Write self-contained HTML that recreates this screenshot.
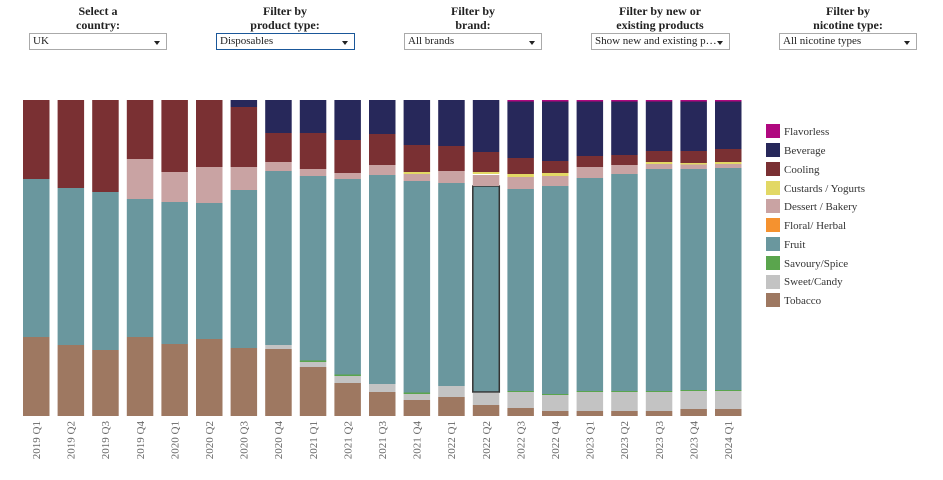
<!DOCTYPE html>
<html><head><meta charset="utf-8"><style>
body{margin:0;width:943px;height:480px;background:#fff;font-family:"Liberation Serif",serif;overflow:hidden;position:relative}
.f{position:absolute;top:4px;width:140px;text-align:center;font-weight:bold;font-size:12px;line-height:14px;color:#222}
.s{position:absolute;top:33px;width:136px;height:17px;border:1px solid #aaa;font-size:11px;line-height:15px;box-sizing:border-box;padding-left:3px;color:#222;background:#fff}
.s::after{content:"";position:absolute;right:6px;top:7px;border-left:3px solid transparent;border-right:3px solid transparent;border-top:4px solid #222}
</style></head><body>
<div class="f" style="left:28px">Select a<br>country:</div>
<div class="f" style="left:215px">Filter by<br>product type:</div>
<div class="f" style="left:403px">Filter by<br>brand:</div>
<div class="f" style="left:590px">Filter by new or<br>existing products</div>
<div class="f" style="left:778px">Filter by<br>nicotine type:</div>
<div class="s" style="left:29px;width:138px">UK</div>
<div class="s" style="left:216px;width:139px;border-color:#1a5799">Disposables</div>
<div class="s" style="left:404px;width:138px">All brands</div>
<div class="s" style="left:591px;width:139px">Show new and existing p…</div>
<div class="s" style="left:779px;width:138px">All nicotine types</div>
<svg width="943" height="480" style="position:absolute;left:0;top:0" font-family="Liberation Serif, serif">
<g id="bars" stroke="none"></g>
<!-- bars -->
<g>
<!-- 1 --><rect x="23" y="337" width="26.5" height="79" fill="#9e7861"/><rect x="23" y="179" width="26.5" height="158" fill="#6a979e"/><rect x="23" y="100" width="26.5" height="79" fill="#7a3033"/>
<!-- 2 --><rect x="57.6" y="345" width="26.5" height="71" fill="#9e7861"/><rect x="57.6" y="188" width="26.5" height="157" fill="#6a979e"/><rect x="57.6" y="100" width="26.5" height="88" fill="#7a3033"/>
<!-- 3 --><rect x="92.2" y="350" width="26.5" height="66" fill="#9e7861"/><rect x="92.2" y="192" width="26.5" height="158" fill="#6a979e"/><rect x="92.2" y="100" width="26.5" height="92" fill="#7a3033"/>
<!-- 4 --><rect x="126.8" y="337" width="26.5" height="79" fill="#9e7861"/><rect x="126.8" y="199" width="26.5" height="138" fill="#6a979e"/><rect x="126.8" y="159" width="26.5" height="40" fill="#c9a3a3"/><rect x="126.8" y="100" width="26.5" height="59" fill="#7a3033"/>
<!-- 5 --><rect x="161.4" y="344" width="26.5" height="72" fill="#9e7861"/><rect x="161.4" y="202" width="26.5" height="142" fill="#6a979e"/><rect x="161.4" y="172" width="26.5" height="30" fill="#c9a3a3"/><rect x="161.4" y="100" width="26.5" height="72" fill="#7a3033"/>
<!-- 6 --><rect x="196" y="339" width="26.5" height="77" fill="#9e7861"/><rect x="196" y="203" width="26.5" height="136" fill="#6a979e"/><rect x="196" y="167" width="26.5" height="36" fill="#c9a3a3"/><rect x="196" y="100" width="26.5" height="67" fill="#7a3033"/>
<!-- 7 --><rect x="230.6" y="348" width="26.5" height="68" fill="#9e7861"/><rect x="230.6" y="190" width="26.5" height="158" fill="#6a979e"/><rect x="230.6" y="167" width="26.5" height="23" fill="#c9a3a3"/><rect x="230.6" y="107" width="26.5" height="60" fill="#7a3033"/><rect x="230.6" y="100" width="26.5" height="7" fill="#27285a"/>
<!-- 8 --><rect x="265.2" y="349" width="26.5" height="67" fill="#9e7861"/><rect x="265.2" y="345" width="26.5" height="4" fill="#c3c3c3"/><rect x="265.2" y="171" width="26.5" height="174" fill="#6a979e"/><rect x="265.2" y="162" width="26.5" height="9" fill="#c9a3a3"/><rect x="265.2" y="133" width="26.5" height="29" fill="#7a3033"/><rect x="265.2" y="100" width="26.5" height="33" fill="#27285a"/>
<!-- 9 --><rect x="299.8" y="367" width="26.5" height="49" fill="#9e7861"/><rect x="299.8" y="362" width="26.5" height="5" fill="#c3c3c3"/><rect x="299.8" y="360.5" width="26.5" height="1.5" fill="#5aa54d"/><rect x="299.8" y="176" width="26.5" height="184.5" fill="#6a979e"/><rect x="299.8" y="169" width="26.5" height="7" fill="#c9a3a3"/><rect x="299.8" y="133" width="26.5" height="36" fill="#7a3033"/><rect x="299.8" y="100" width="26.5" height="33" fill="#27285a"/>
<!-- 10 --><rect x="334.4" y="383" width="26.5" height="33" fill="#9e7861"/><rect x="334.4" y="376" width="26.5" height="7" fill="#c3c3c3"/><rect x="334.4" y="374.5" width="26.5" height="1.5" fill="#5aa54d"/><rect x="334.4" y="179" width="26.5" height="195.5" fill="#6a979e"/><rect x="334.4" y="173" width="26.5" height="6" fill="#c9a3a3"/><rect x="334.4" y="140" width="26.5" height="33" fill="#7a3033"/><rect x="334.4" y="100" width="26.5" height="40" fill="#27285a"/>
<!-- 11 --><rect x="369" y="392" width="26.5" height="24" fill="#9e7861"/><rect x="369" y="384" width="26.5" height="8" fill="#c3c3c3"/><rect x="369" y="175" width="26.5" height="209" fill="#6a979e"/><rect x="369" y="165" width="26.5" height="10" fill="#c9a3a3"/><rect x="369" y="134" width="26.5" height="31" fill="#7a3033"/><rect x="369" y="100" width="26.5" height="34" fill="#27285a"/>
<!-- 12 --><rect x="403.6" y="400" width="26.5" height="16" fill="#9e7861"/><rect x="403.6" y="394" width="26.5" height="6" fill="#c3c3c3"/><rect x="403.6" y="392.5" width="26.5" height="1.5" fill="#5aa54d"/><rect x="403.6" y="181" width="26.5" height="211.5" fill="#6a979e"/><rect x="403.6" y="174" width="26.5" height="7" fill="#c9a3a3"/><rect x="403.6" y="172" width="26.5" height="2" fill="#e2d865"/><rect x="403.6" y="145" width="26.5" height="27" fill="#7a3033"/><rect x="403.6" y="100" width="26.5" height="45" fill="#27285a"/>
<!-- 13 --><rect x="438.2" y="397" width="26.5" height="19" fill="#9e7861"/><rect x="438.2" y="386" width="26.5" height="11" fill="#c3c3c3"/><rect x="438.2" y="183" width="26.5" height="203" fill="#6a979e"/><rect x="438.2" y="171" width="26.5" height="12" fill="#c9a3a3"/><rect x="438.2" y="146" width="26.5" height="25" fill="#7a3033"/><rect x="438.2" y="100" width="26.5" height="46" fill="#27285a"/>
<!-- 14 --><rect x="472.8" y="405" width="26.5" height="11" fill="#9e7861"/><rect x="472.8" y="393" width="26.5" height="12" fill="#c3c3c3"/><rect x="472.8" y="186" width="26.5" height="206" fill="#6a979e" stroke="#333" stroke-width="1.5"/><rect x="472.8" y="175" width="26.5" height="11" fill="#c9a3a3"/><rect x="472.8" y="172" width="26.5" height="2" fill="#e2d865"/><rect x="472.8" y="152" width="26.5" height="20" fill="#7a3033"/><rect x="472.8" y="100" width="26.5" height="52" fill="#27285a"/>
<!-- 15 --><rect x="507.4" y="408" width="26.5" height="8" fill="#9e7861"/><rect x="507.4" y="392" width="26.5" height="16" fill="#c3c3c3"/><rect x="507.4" y="391" width="26.5" height="1" fill="#5aa54d"/><rect x="507.4" y="189" width="26.5" height="202" fill="#6a979e"/><rect x="507.4" y="177" width="26.5" height="12" fill="#c9a3a3"/><rect x="507.4" y="174" width="26.5" height="3" fill="#e2d865"/><rect x="507.4" y="158" width="26.5" height="16" fill="#7a3033"/><rect x="507.4" y="101.5" width="26.5" height="56.5" fill="#27285a"/><rect x="507.4" y="100" width="26.5" height="1.5" fill="#b0087f"/>
<!-- 16 --><rect x="542" y="411" width="26.5" height="5" fill="#9e7861"/><rect x="542" y="395" width="26.5" height="16" fill="#c3c3c3"/><rect x="542" y="394" width="26.5" height="1" fill="#5aa54d"/><rect x="542" y="186" width="26.5" height="208" fill="#6a979e"/><rect x="542" y="176" width="26.5" height="10" fill="#c9a3a3"/><rect x="542" y="173" width="26.5" height="3" fill="#e2d865"/><rect x="542" y="161" width="26.5" height="12" fill="#7a3033"/><rect x="542" y="101.5" width="26.5" height="59.5" fill="#27285a"/><rect x="542" y="100" width="26.5" height="1.5" fill="#b0087f"/>
<!-- 17 --><rect x="576.6" y="411" width="26.5" height="5" fill="#9e7861"/><rect x="576.6" y="392" width="26.5" height="19" fill="#c3c3c3"/><rect x="576.6" y="391" width="26.5" height="1" fill="#5aa54d"/><rect x="576.6" y="178" width="26.5" height="213" fill="#6a979e"/><rect x="576.6" y="167" width="26.5" height="11" fill="#c9a3a3"/><rect x="576.6" y="156" width="26.5" height="11" fill="#7a3033"/><rect x="576.6" y="101.5" width="26.5" height="54.5" fill="#27285a"/><rect x="576.6" y="100" width="26.5" height="1.5" fill="#b0087f"/>
<!-- 18 --><rect x="611.2" y="411" width="26.5" height="5" fill="#9e7861"/><rect x="611.2" y="392" width="26.5" height="19" fill="#c3c3c3"/><rect x="611.2" y="391" width="26.5" height="1" fill="#5aa54d"/><rect x="611.2" y="174" width="26.5" height="217" fill="#6a979e"/><rect x="611.2" y="165" width="26.5" height="9" fill="#c9a3a3"/><rect x="611.2" y="155" width="26.5" height="10" fill="#7a3033"/><rect x="611.2" y="101.5" width="26.5" height="53.5" fill="#27285a"/><rect x="611.2" y="100" width="26.5" height="1.5" fill="#b0087f"/>
<!-- 19 --><rect x="645.8" y="411" width="26.5" height="5" fill="#9e7861"/><rect x="645.8" y="392" width="26.5" height="19" fill="#c3c3c3"/><rect x="645.8" y="391" width="26.5" height="1" fill="#5aa54d"/><rect x="645.8" y="169" width="26.5" height="222" fill="#6a979e"/><rect x="645.8" y="164" width="26.5" height="5" fill="#c9a3a3"/><rect x="645.8" y="162" width="26.5" height="2" fill="#e2d865"/><rect x="645.8" y="151" width="26.5" height="11" fill="#7a3033"/><rect x="645.8" y="101.5" width="26.5" height="49.5" fill="#27285a"/><rect x="645.8" y="100" width="26.5" height="1.5" fill="#b0087f"/>
<!-- 20 --><rect x="680.4" y="409" width="26.5" height="7" fill="#9e7861"/><rect x="680.4" y="391" width="26.5" height="18" fill="#c3c3c3"/><rect x="680.4" y="390" width="26.5" height="1" fill="#5aa54d"/><rect x="680.4" y="169" width="26.5" height="221" fill="#6a979e"/><rect x="680.4" y="164" width="26.5" height="5" fill="#c9a3a3"/><rect x="680.4" y="163" width="26.5" height="1.5" fill="#e2d865"/><rect x="680.4" y="151" width="26.5" height="12" fill="#7a3033"/><rect x="680.4" y="101.5" width="26.5" height="49.5" fill="#27285a"/><rect x="680.4" y="100" width="26.5" height="1.5" fill="#b0087f"/>
<!-- 21 --><rect x="715" y="409" width="26.5" height="7" fill="#9e7861"/><rect x="715" y="391" width="26.5" height="18" fill="#c3c3c3"/><rect x="715" y="390" width="26.5" height="1" fill="#5aa54d"/><rect x="715" y="168" width="26.5" height="222" fill="#6a979e"/><rect x="715" y="164" width="26.5" height="4" fill="#c9a3a3"/><rect x="715" y="162" width="26.5" height="2" fill="#e2d865"/><rect x="715" y="149" width="26.5" height="13" fill="#7a3033"/><rect x="715" y="101.5" width="26.5" height="47.5" fill="#27285a"/><rect x="715" y="100" width="26.5" height="1.5" fill="#b0087f"/>
</g>
<g font-size="11" fill="#666" text-anchor="end">
<text transform="translate(40,421) rotate(-90)">2019 Q1</text>
<text transform="translate(74.6,421) rotate(-90)">2019 Q2</text>
<text transform="translate(109.2,421) rotate(-90)">2019 Q3</text>
<text transform="translate(143.8,421) rotate(-90)">2019 Q4</text>
<text transform="translate(178.4,421) rotate(-90)">2020 Q1</text>
<text transform="translate(213,421) rotate(-90)">2020 Q2</text>
<text transform="translate(247.6,421) rotate(-90)">2020 Q3</text>
<text transform="translate(282.2,421) rotate(-90)">2020 Q4</text>
<text transform="translate(316.8,421) rotate(-90)">2021 Q1</text>
<text transform="translate(351.4,421) rotate(-90)">2021 Q2</text>
<text transform="translate(386,421) rotate(-90)">2021 Q3</text>
<text transform="translate(420.6,421) rotate(-90)">2021 Q4</text>
<text transform="translate(455.2,421) rotate(-90)">2022 Q1</text>
<text transform="translate(489.8,421) rotate(-90)">2022 Q2</text>
<text transform="translate(524.4,421) rotate(-90)">2022 Q3</text>
<text transform="translate(559,421) rotate(-90)">2022 Q4</text>
<text transform="translate(593.6,421) rotate(-90)">2023 Q1</text>
<text transform="translate(628.2,421) rotate(-90)">2023 Q2</text>
<text transform="translate(662.8,421) rotate(-90)">2023 Q3</text>
<text transform="translate(697.4,421) rotate(-90)">2023 Q4</text>
<text transform="translate(732,421) rotate(-90)">2024 Q1</text>
</g>
<g font-size="11" fill="#333">
<rect x="766" y="124" width="14" height="14" fill="#b0087f"/><text x="784" y="135">Flavorless</text>
<rect x="766" y="143" width="14" height="14" fill="#27285a"/><text x="784" y="154">Beverage</text>
<rect x="766" y="162" width="14" height="14" fill="#7a3033"/><text x="784" y="173">Cooling</text>
<rect x="766" y="181" width="14" height="14" fill="#e2d865"/><text x="784" y="192">Custards / Yogurts</text>
<rect x="766" y="199" width="14" height="14" fill="#c9a3a3"/><text x="784" y="210">Dessert / Bakery</text>
<rect x="766" y="218" width="14" height="14" fill="#f5922f"/><text x="784" y="229">Floral/ Herbal</text>
<rect x="766" y="237" width="14" height="14" fill="#6a979e"/><text x="784" y="248">Fruit</text>
<rect x="766" y="256" width="14" height="14" fill="#5aa54d"/><text x="784" y="267">Savoury/Spice</text>
<rect x="766" y="275" width="14" height="14" fill="#c3c3c3"/><text x="784" y="285">Sweet/Candy</text>
<rect x="766" y="293" width="14" height="14" fill="#9e7861"/><text x="784" y="304">Tobacco</text>
</g>
</svg>
</body></html>
